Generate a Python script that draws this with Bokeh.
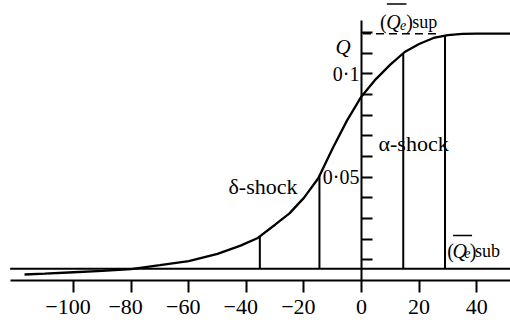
from bokeh.plotting import figure
from bokeh.models import LinearAxis, FixedTicker, Range1d
from bokeh.core.properties import value
from bokeh.embed import file_html
from bokeh.resources import INLINE
import numpy as np

# ---- data ----
x_vals = [-117, -110, -100, -90, -80, -70, -60, -50, -42, -36, -30, -25, -20,
          -15, -10, -5, 0, 5, 10, 15, 20, 25, 30, 35, 40, 52]
q_vals = [0.0029, 0.0033, 0.0040, 0.0047, 0.0055, 0.0074, 0.0094, 0.0129,
          0.0169, 0.0206, 0.0270, 0.0325, 0.0400, 0.0495, 0.0640, 0.0775,
          0.0891, 0.0975, 0.1045, 0.1106, 0.1145, 0.1174, 0.1188, 0.1194,
          0.1195, 0.1195]
shock_x = [-35.3, -14.6, 14.5, 29.0]
q_sub = 0.0057
q_sup = 0.1194
x_ticks = [-100, -80, -60, -40, -20, 0, 20, 40]
x_tick_labels = ["\u2212100", "\u221280", "\u221260", "\u221240", "\u221220", "0", "20", "40"]
y_ticks = [0.01, 0.02, 0.03, 0.04, 0.05, 0.06, 0.07, 0.08, 0.09, 0.1, 0.11, 0.12]
y_tick_labels = {0.05: "0\u00b705", 0.1: "0\u00b71"}

SERIF = "Liberation Serif"

p = figure(width=510, height=322, output_backend="svg", toolbar_location=None,
           x_range=Range1d(-125.35, 51.74), y_range=Range1d(0, 0.13553),
           min_border_left=0, min_border_right=0, min_border_top=0,
           min_border_bottom=42, x_axis_type=None, y_axis_type=None)
p.outline_line_color = None
p.grid.visible = False
p.background_fill_color = "white"
p.border_fill_color = "white"

# bottom axis
xa = LinearAxis(ticker=FixedTicker(ticks=x_ticks), bounds=(-122, 55))
xa.major_label_overrides = {t: (lab + "\u2002" if lab.startswith("\u2212") else lab)
                            for t, lab in zip(x_ticks, x_tick_labels)}
xa.major_tick_out = 12
xa.major_tick_in = 0
xa.minor_tick_out = 0
xa.minor_tick_in = 0
xa.axis_line_width = 2
xa.major_tick_line_width = 2
xa.major_label_standoff = 1
xa.major_label_text_font = SERIF
xa.major_label_text_font_size = "22px"
xa.major_label_text_color = "black"
p.add_layout(xa, "below")

# vertical Q axis placed at x = 0
ya = LinearAxis(ticker=FixedTicker(ticks=y_ticks), fixed_location=0, bounds=(0, 0.1258))
ya.major_label_overrides = {t: y_tick_labels.get(t, "") for t in y_ticks}
ya.major_tick_in = 11
ya.major_tick_out = 0
ya.minor_tick_in = 0
ya.minor_tick_out = 0
ya.axis_line_width = 2
ya.major_tick_line_width = 2
ya.major_label_standoff = 2
ya.major_label_text_font = SERIF
ya.major_label_text_font_size = "20px"
ya.major_label_text_color = "black"
ya.major_label_orientation = "horizontal"
p.add_layout(ya, "left")

# baseline (Qe)sub
p.segment(x0=[-122], x1=[52], y0=[q_sub], y1=[q_sub], line_color="black", line_width=2)

# curve
p.line(x_vals, q_vals, line_color="black", line_width=2.3)

# shock lines from baseline up to the curve
tops = list(np.interp(shock_x, x_vals, q_vals))
p.segment(x0=shock_x, x1=shock_x, y0=[q_sub] * len(shock_x), y1=tops,
          line_color="black", line_width=2)

# dashed (Qe)sup line
p.segment(x0=[0.5], x1=[27.5], y0=[q_sup], y1=[q_sup], line_color="black",
          line_width=1.5, line_dash="8 5")

def txt(x, y, s, size, style="normal", align="left", baseline="alphabetic"):
    p.text(x=[x], y=[y], text=[s], text_font=value(SERIF), text_font_size=size,
           text_font_style=style, text_align=align, text_baseline=baseline,
           text_color="black")

# axis name
txt(-3.8, 0.1128, "Q", "21px", "italic", "right", "middle")

# shock labels
txt(-46.2, 0.0456, "\u03b4-shock", "22px")
txt(5.9, 0.0662, "\u03b1-shock", "22px")

# (Qe)sup label
txt(6.4, 0.1249, "(", "20px")
txt(8.6, 0.1249, "Q", "20px", "italic")
txt(13.4, 0.1239, "e", "14px", "italic")
txt(15.5, 0.1249, ")", "20px")
txt(17.6, 0.1249, "sup", "18px")
p.segment(x0=[8.8], x1=[15.6], y0=[0.1338], y1=[0.1338], line_color="black", line_width=1.5)

# (Qe)sub label
txt(29.8, 0.0141, "(", "20px")
txt(31.6, 0.0141, "Q", "20px", "italic")
txt(35.7, 0.0131, "e", "14px", "italic")
txt(37.6, 0.0141, ")", "20px")
txt(39.4, 0.0141, "sub", "18px")
p.segment(x0=[31.8], x1=[38.4], y0=[0.0218], y1=[0.0218], line_color="black", line_width=1.5)

open("out.html", "w").write(file_html(p, INLINE))
